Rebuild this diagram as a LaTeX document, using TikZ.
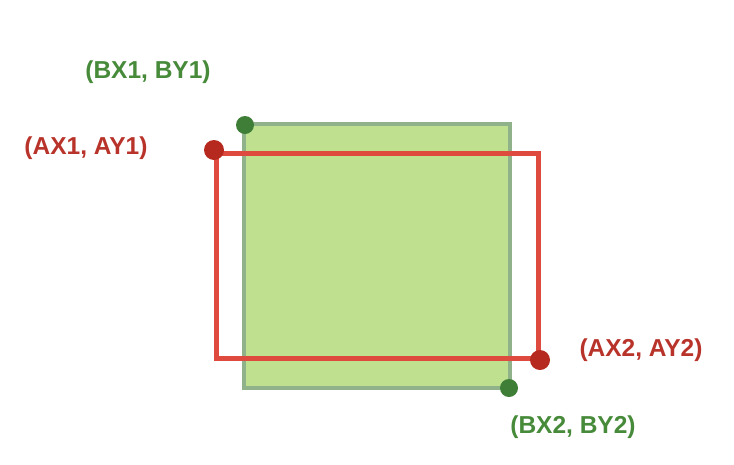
\documentclass[tikz,border=0pt]{standalone}
\usepackage{fontspec}
\setmainfont{Liberation Sans}
\definecolor{bfill}{HTML}{BFE08F}
\definecolor{bline}{HTML}{8FB28A}
\definecolor{bdot}{HTML}{3F7E36}
\definecolor{btext}{HTML}{468A3A}
\definecolor{aline}{HTML}{DF4A3E}
\definecolor{adot}{HTML}{B5291F}
\definecolor{atext}{HTML}{B8332A}
\tikzset{
  lbl/.style={font=\bfseries\fontsize{24.5}{28}\selectfont, inner sep=0pt},
  bdotst/.style={circle, fill=bdot, minimum size=18pt, inner sep=0pt},
  adotst/.style={circle, fill=adot, minimum size=20pt, inner sep=0pt},
}
\begin{document}
\begin{tikzpicture}[x=1pt,y=-1pt]
\useasboundingbox (0,0) rectangle (734,464);
% box B
\coordinate (b1) at (244,124);
\coordinate (b2) at (510,388);
\draw[bline, line width=3.5pt, fill=bfill] (b1) rectangle (b2);
% box A
\coordinate (a1) at (216,153);
\coordinate (a2) at (538,358);
\draw[aline, line width=5pt] (a1) rectangle (a2);
% dots
\node[bdotst] (bd1) at (245,125) {};
\node[bdotst] (bd2) at (509,388) {};
\node[adotst] (ad1) at (214,150) {};
\node[adotst] (ad2) at (540,360) {};
% labels
\node[lbl, text=btext] (lb1) at (148,72) {(BX1, BY1)};
\node[lbl, text=atext] (la1) at (86,148) {(AX1, AY1)};
\node[lbl, text=atext] (la2) at (641,350) {(AX2, AY2)};
\node[lbl, text=btext] (lb2) at (573,427) {(BX2, BY2)};
\end{tikzpicture}
\end{document}
